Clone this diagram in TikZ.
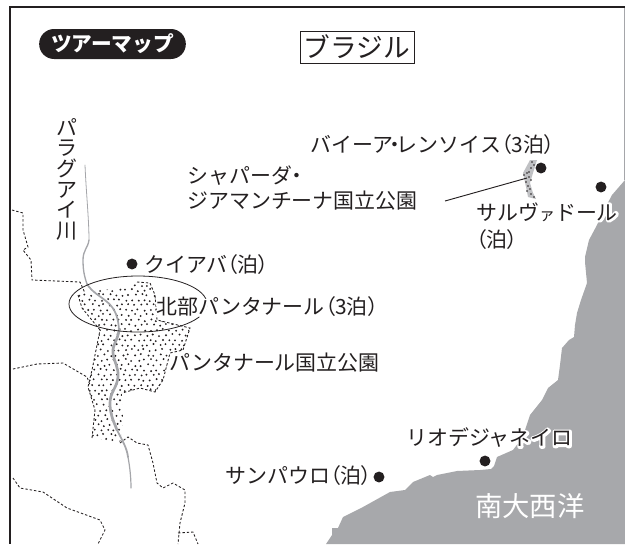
\documentclass[tikz,border=0pt]{standalone}
\usepackage{fontspec}
\usetikzlibrary{shapes.geometric}
\setmainfont{Noto Sans CJK JP}
\newfontfamily\pf{Noto Sans CJK JP}[RawFeature=+palt]
\newcommand{\lpar}{{\pf （}}
\newcommand{\rpar}{{\pf ）}}
\newcommand{\mdot}{{\pf ・}}
\newcommand{\halotext}[1]{\leavevmode\rlap{\special{pdf:code q 2 Tr 1 1 1 RG 1 1 1 rg 3.2 w 1 j}#1\special{pdf:code Q}}#1}
\definecolor{seagray}{RGB}{167,168,171}
\definecolor{rivergray}{RGB}{165,166,170}
\definecolor{inkblack}{RGB}{35,31,32}
\tikzset{
  x=0.75pt,y=-0.75pt,
  lbl/.style={inner sep=0pt,anchor=west,font=\fontsize{15.7}{15.5}\selectfont,text=inkblack},
  city/.style={circle,fill=inkblack,inner sep=0pt,minimum size=8.2pt},
  border/.style={dash pattern=on 1.8pt off 1.5pt,line width=0.65pt,inkblack},
  river/.style={rivergray,line cap=round,line join=round},
  frameline/.style={inkblack,line width=2.2pt}
}
\begin{document}
\begin{tikzpicture}
\useasboundingbox (0,0) rectangle (625,544);
% sea
\fill[seagray] (625,180) -- (612,195) -- (603,212) -- (597,225) -- (589,240) -- (585,257)
  -- (585,262) -- (587,283) -- (581,300) -- (577,313) -- (575,325) -- (574,337) -- (569,340) -- (562,348)
  -- (560,365) -- (558,380) -- (548,388) -- (542,400) -- (530,415) -- (526,427) -- (523,437) -- (513,450)
  -- (497,457) -- (494,466) -- (491,469) -- (480,470) -- (457,471) -- (437,475) -- (433,477) -- (430,475)
  -- (413,482) -- (405,490) -- (390,492) -- (363,507) -- (343,517) -- (338,528) -- (332,528) -- (332,535)
  -- (326,544) -- (625,544) -- cycle;
% stippled park
\begin{scope}
\clip (78,295) -- (100,290) -- (130,288) -- (137,282) -- (150,283) -- (155,295) -- (157,320) -- (190,328)
  -- (183,350) -- (170,353) -- (163,380) -- (155,392) -- (140,388) -- (122,393) -- (123,420) -- (120,443)
  -- (92,438) -- (95,410) -- (88,387) -- (92,370) -- (100,330) -- (82,308) -- cycle;
\pgfmathsetseed{4242}
\foreach \i in {0,...,20}{
  \foreach \j in {0,...,33}{
    \pgfmathsetmacro{\dx}{70+\i*6.2+mod(\j,2)*3.1+rand*1.2}
    \pgfmathsetmacro{\dy}{280+\j*5+rand*1.2}
    \fill[inkblack] (\dx,\dy) circle[radius=1.05];
  }
}
\end{scope}
% borders
\draw[border] (12,210) -- (23,213) -- (23,230) -- (28,247) -- (23,250) -- (31,260) -- (32,280) -- (80,282) -- (85,293);
\draw[border] (13,369) -- (37,364) -- (63,363) -- (87,377) -- (90,385);
\draw[border] (120,443) -- (128,437) -- (137,443) -- (148,445) -- (153,463) -- (157,483) -- (163,488) -- (173,483) -- (185,490) -- (185,503) -- (180,523) -- (178,544);
\draw[border] (178,533) -- (193,532) -- (198,544);
\draw[border] (13,478) -- (20,488) -- (43,492) -- (67,508) -- (100,520) -- (105,530) -- (98,544);
\draw[border] (92,438) -- (95,410) -- (88,387) -- (92,370) -- (100,330);
\draw[border] (78,295) -- (82,308) -- (100,330);
\draw[border] (137,282) -- (150,283) -- (155,295) -- (157,320) -- (190,328) -- (183,350) -- (170,353) -- (163,380) -- (155,392) -- (140,388) -- (122,393);
% river
\draw[river,line width=0.6pt] (85,165) .. controls (86,190) and (89,220) .. (89,240);
\draw[river,line width=1pt] (89,240) .. controls (88,248) and (83,250) .. (83,260) .. controls (83,272) and (85,278) .. (87,284);
\draw[river,line width=1.3pt] (87,284) .. controls (92,292) and (100,296) .. (106,301) .. controls (112,306) and (118,312) .. (119,330);
\draw[river,line width=2pt] (119,330) .. controls (118,340) and (112,345) .. (113,353) .. controls (114,362) and (119,368) .. (118,377) .. controls (117,388) and (110,392) .. (110,403) .. controls (110,415) and (114,422) .. (117,430);
\draw[river,line width=1.3pt] (117,430) .. controls (122,440) and (127,448) .. (128,457);
\draw[river,line width=0.9pt] (128,457) .. controls (130,468) and (131,478) .. (131,488);
% Chapada strip
\fill[rivergray!70] (530,160) -- (537,160) -- (533,173) -- (530,183) -- (533,193) -- (536,199) -- (528,197) -- (526,187) -- (523,173) -- cycle;
\foreach \a/\b in {532/162,534/165,531/168,529/172,527/173,524/175,529/177,531/180,526/182,528/186,530/189,527/191,531/194,534/197}{
  \fill[inkblack] (\a,\b) circle[radius=0.8];
}
% frame
\draw[rivergray,line width=0.8pt] (624.5,7) -- (624.5,180);
\draw[frameline] (625,7) -- (10,7) -- (10,544);
% oval
\node[draw=inkblack,ellipse,line width=0.6pt,minimum width=103.5pt,minimum height=42pt,inner sep=0pt] (oval) at (138,304) {};
% cities
\node[city] (cuiaba) at (132,264) {};
\node[city] (lencois) at (541,168) {};
\node[city] (salvador) at (601,187) {};
\node[city] (rio) at (485,461) {};
\node[city] (saopaulo) at (379,477) {};
% title
\node[fill=inkblack,rounded corners=11.2pt,minimum width=110pt,minimum height=22.5pt,inner sep=0pt,text=white,font=\fontsize{15.5}{15.5}\selectfont\bfseries] (pill) at (112.5,44) {ツアーマップ};
\node[draw=inkblack,line width=0.6pt,minimum width=85.5pt,minimum height=24pt,inner sep=0pt,font=\fontsize{20}{20}\selectfont,text=inkblack] (brazil) at (357,47) {ブラジル};
% labels
\node[lbl,anchor=north,align=center] (paraguay) at (67,118) {パ\\ラ\\グ\\ア\\イ\\川};
\node[lbl] (lcuiaba) at (144,265) {クイアバ\lpar 泊\rpar};
\node[lbl] (lnorth) at (156,307) {\halotext{北部パンタナール\lpar 3泊\rpar}};
\node[lbl] (lpark) at (169,363) {\halotext{パンタナール国立公園}};
\node[lbl] (lsp) at (225,476) {サンパウロ\lpar 泊\rpar};
\node[lbl] (lrio) at (406,438) {\halotext{リオデジャネイロ}};
\node[lbl] (llen) at (310,145) {バイーア\kern-2.5pt\mdot\kern-2.5pt レンソイス\lpar 3泊\rpar};
\node[lbl] (lcha) at (187,176) {シャパーダ\mdot};
\node[lbl] (lcha2) at (187,201) {ジアマンチーナ国立公園};
\node[lbl] (lsal) at (476,212) {\halotext{サルヴ{\fontsize{12}{12}\selectfont ァ}ドール}};
\node[lbl] (lsal2) at (476,240) {\lpar 泊\rpar};
\node[lbl,text=white,font=\fontsize{20.5}{20.5}\selectfont] (lsea) at (475,506) {南大西洋};
\draw[inkblack,line width=0.7pt] (445,201) coordinate (leadA) -- (527,178) coordinate (leadB);
\end{tikzpicture}
\end{document}
